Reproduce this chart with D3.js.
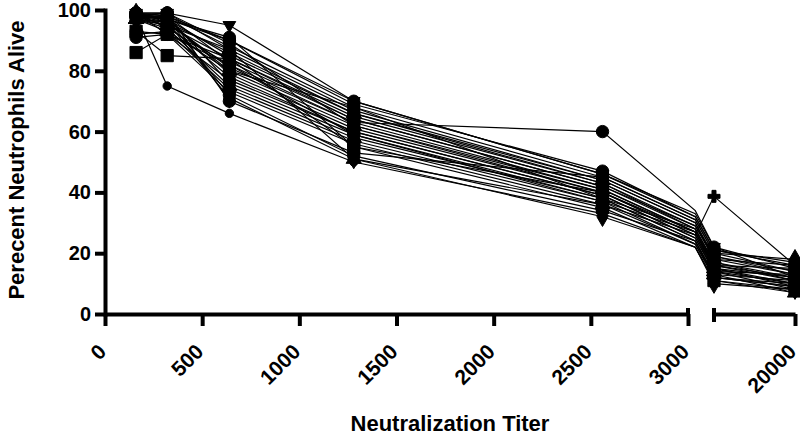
<!DOCTYPE html>
<html><head><meta charset="utf-8">
<script src="https://cdn.jsdelivr.net/npm/d3@7"></script>
<style>body{margin:0;background:#fff}svg{display:block}text{font-family:"Liberation Sans",Arial,sans-serif;font-weight:bold;fill:#000}</style>
</head><body>
<script>
// Titer columns (5120 lies inside the axis gap: its line passes through, its marker is hidden)
const titers = [160, 320, 640, 1280, 2560, 5120, 10240, 20000];
const seriesValues = [
  [99, 99, 95, 70, 46, 33, 22, 15],
  [98, 97, 90, 69, 47, 32, 21, 17],
  [99, 98, 88, 68, 45, 31, 20, 18],
  [98, 99, 87, 67, 44, 30, 19, 14],
  [97, 96, 86, 66, 44, 30, 18, 13],
  [99, 97, 85, 66, 43, 29, 18, 16],
  [98, 95, 84, 65, 43, 28, 17, 12],
  [97, 98, 83, 64, 42, 28, 17, 11],
  [99, 94, 82, 63, 60, 34, 22, 12],
  [98, 96, 81, 63, 41, 27, 16, 15],
  [97, 93, 80, 62, 41, 27, 15, 10],
  [99, 99, 89, 62, 40, 26, 38.7, 16],
  [98, 97, 79, 61, 40, 26, 15, 9],
  [97, 95, 78, 60, 39, 25, 14, 13],
  [99, 92, 77, 60, 39, 25, 14, 8],
  [98, 98, 76, 59, 38, 24, 13, 11],
  [97, 94, 75, 58, 38, 24, 13, 7],
  [92, 93, 74, 57, 37, 23, 12, 10],
  [93, 92, 73, 56, 36, 23, 12, 9],
  [86, 92, 84, 64, 42, 29, 19, 13],
  [93, 85, 84, 55, 35, 22, 11, 8],
  [98, 75, 66, 50, 33, 22, 11, 7],
  [98, 97, 72, 52, 34, 24, 12, 9],
  [97, 96, 71, 51, 32, 22, 10, 8],
  [99, 97, 91, 55, 40, 27, 16, 12],
  [98, 99, 70, 53, 45, 31, 20, 14],
  [97, 95, 87, 51, 36, 26, 14, 10],
  [99, 96, 80, 68, 38, 28, 16, 11],
  [91, 92, 82, 59, 37, 27, 15, 12],
  [98, 98, 90, 70, 46, 32, 21, 16]
];
const seriesSymbols = ["triangleDown","circle","diamond","circle","triangle","circle","diamond","circle","circle","circle",
  "triangle","cross","circle","diamond","circle","circle","triangle","circle","circle","square",
  "square","circle","circle","diamond","circle","circle","triangle","circle","circle","circle"];
const seriesSizes = [70,120,110,120,100,120,110,120,120,120,100,80,120,110,120,120,100,120,120,150,150,55,120,110,120,120,100,120,120,120];

const yTicks = [0, 20, 40, 60, 80, 100];
const xTicks = [0, 500, 1000, 1500, 2000, 2500, 3000, 20000];
const xTickLabels = ["0","500","1000","1500","2000","2500","3000","20000"];
const xSegments = [[0, 3000], [10000, 20000]];
const yTitle = "Perecent Neutrophils Alive";
const xTitle = "Neutralization Titer";

const svg = d3.select("body").append("svg").attr("width", 800).attr("height", 436);
const x = d3.scaleLinear().domain([0, 3000, 10000, 20000]).range([105, 688, 712, 795]);
const y = d3.scaleLinear().domain([0, 100]).range([314, 10]);

const symMap = {circle:d3.symbolCircle, square:d3.symbolSquare, triangle:d3.symbolTriangle,
  triangleDown:d3.symbolTriangle, diamond:d3.symbolDiamond, cross:d3.symbolCross};

// lines
const line = d3.line().x((d,i)=>x(titers[i])).y(d=>y(d));
svg.append("g").selectAll("path").data(seriesValues).join("path")
  .attr("d", line).attr("fill","none").attr("stroke","#000").attr("stroke-width",1.2);

// markers (only inside axis segments)
const inSeg = t => xSegments.some(s => t >= s[0] && t <= s[1]);
seriesValues.forEach((vals, si) => {
  const g = svg.append("g");
  const sym = d3.symbol().type(symMap[seriesSymbols[si]]).size(seriesSizes[si]);
  vals.forEach((v, i) => {
    if (!inSeg(titers[i])) return;
    g.append("path").attr("d", sym())
      .attr("transform", `translate(${x(titers[i])},${y(v)})` + (seriesSymbols[si]==="triangleDown" ? " rotate(180)" : ""))
      .attr("fill","#000").attr("stroke","#000").attr("stroke-width",1).attr("stroke-linejoin","round");
  });
});

// y axis
const ya = svg.append("g").attr("transform","translate(105,0)")
  .call(d3.axisLeft(y).tickValues(yTicks).tickSize(10).tickSizeOuter(0).tickPadding(4));
ya.select(".domain").attr("stroke-width",4).attr("stroke-linecap","square");
ya.selectAll(".tick line").attr("stroke-width",4);
ya.selectAll(".tick text").style("font-size","20px").style("font-family",'"Liberation Sans",Arial,sans-serif').style("font-weight","bold");

// x axis segments
xSegments.forEach((seg, k) => {
  const sx = d3.scaleLinear().domain(seg).range(seg.map(x));
  const tv = xTicks.filter(t => t >= seg[0] && t <= seg[1]);
  const xa = svg.append("g").attr("transform","translate(0,314)")
    .call(d3.axisBottom(sx).tickValues(tv).tickSize(12).tickSizeOuter(0)
      .tickFormat(t => xTickLabels[xTicks.indexOf(t)]));
  xa.select(".domain").attr("stroke-width",4);
  xa.selectAll(".tick line").attr("stroke-width",4);
  xa.selectAll(".tick text")
    .attr("x",0).attr("y",0).attr("dy",0)
    .attr("transform","translate(2,39) rotate(-45)")
    .style("text-anchor","end")
    .style("font-size","21px").style("font-family",'"Liberation Sans",Arial,sans-serif').style("font-weight","bold");
  // break caps
  if (k === 0) svg.append("line").attr("x1",x(seg[1])).attr("x2",x(seg[1])).attr("y1",308).attr("y2",316).attr("stroke","#000").attr("stroke-width",4);
  if (k === 1) svg.append("line").attr("x1",x(seg[0])+2).attr("x2",x(seg[0])+2).attr("y1",308).attr("y2",322).attr("stroke","#000").attr("stroke-width",4);
});

// titles
svg.append("text").attr("transform","translate(24,160) rotate(-90)").attr("text-anchor","middle")
  .style("font-size","22px").text(yTitle);
svg.append("text").attr("x",450).attr("y",431).attr("text-anchor","middle")
  .style("font-size","22px").text(xTitle);
</script>
</body></html>
